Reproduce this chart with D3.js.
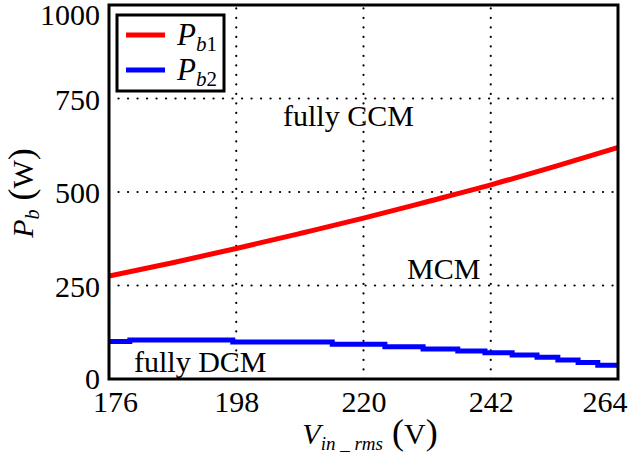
<!DOCTYPE html>
<html lang="en">
<head>
    <meta charset="UTF-8">
    <title>Pb vs Vin</title>
    <script src="https://cdn.jsdelivr.net/npm/d3@7"></script>
    <style>
        body { margin: 0; background: #fff; }
        text { font-family: "Liberation Serif", "Times New Roman", serif; fill: #000; }
        .grid line { stroke: #000; stroke-width: 2.2; stroke-dasharray: 0.1 9.4; stroke-linecap: round; }
    </style>
</head>
<body>
    <svg width="629" height="459"></svg>
    <script>
        // input voltage (V) and Pb1 (W)
        var vin = [176, 187, 198, 209, 220, 231, 242, 253, 264];
        var pb1 = [275, 311, 349, 389, 430, 474, 519, 568, 619];
        // Pb2 is a staircase
        var vinStep = [176, 179.6, 197.4, 214.6, 223.7, 230.3, 236.3, 241, 245.7, 250, 253.6, 257.1, 260.5, 264];
        var pb2 = [100, 104, 99, 93, 86, 80, 75, 70, 64, 58, 51, 44, 37, 37];

        var xTicks = [176, 198, 220, 242, 264];
        var yTicks = [0, 250, 500, 750, 1000];

        var svg = d3.select("svg");
        var pLeft = 109, pRight = 618, pTop = 5, pBottom = 379;

        var x = d3.scaleLinear().domain([176, 264]).range([pLeft, pRight]);
        var y = d3.scaleLinear().domain([0, 1000]).range([pBottom, pTop]);

        // dotted grid
        var grid = svg.append("g").attr("class", "grid");
        grid.selectAll(".gx").data(xTicks.slice(1, -1)).enter().append("line")
            .attr("x1", function(d) { return x(d); }).attr("x2", function(d) { return x(d); })
            .attr("y1", pBottom).attr("y2", pTop);
        grid.selectAll(".gy").data(yTicks.slice(1, -1)).enter().append("line")
            .attr("y1", function(d) { return y(d); }).attr("y2", function(d) { return y(d); })
            .attr("x1", pLeft).attr("x2", pRight);

        // annotations
        svg.append("text").attr("x", 283).attr("y", 126).attr("font-size", 30).text("fully CCM");
        svg.append("text").attr("x", 407).attr("y", 279).attr("font-size", 30).text("MCM");
        svg.append("text").attr("x", 134).attr("y", 372).attr("font-size", 30).text("fully DCM");

        svg.append("clipPath").attr("id", "clip").append("rect")
            .attr("x", pLeft).attr("y", pTop).attr("width", pRight - pLeft).attr("height", pBottom - pTop);

        var line1 = d3.line()
            .x(function(d, i) { return x(vin[i]); })
            .y(function(d) { return y(d); })
            .curve(d3.curveMonotoneX);
        var line2 = d3.line()
            .x(function(d, i) { return x(vinStep[i]); })
            .y(function(d) { return y(d); })
            .curve(d3.curveStepAfter);

        svg.append("path").datum(pb1).attr("clip-path", "url(#clip)")
            .attr("d", line1).attr("fill", "none").attr("stroke", "#ff0000").attr("stroke-width", 5);
        svg.append("path").datum(pb2).attr("clip-path", "url(#clip)")
            .attr("d", line2).attr("fill", "none").attr("stroke", "#0000ff").attr("stroke-width", 5);

        // axes
        var xAxis = svg.append("g").attr("transform", "translate(0," + pBottom + ")")
            .call(d3.axisBottom(x).tickValues(xTicks).tickSize(0).tickPadding(10).tickFormat(d3.format("d")));
        var yAxis = svg.append("g").attr("transform", "translate(" + pLeft + ",0)")
            .call(d3.axisLeft(y).tickValues(yTicks).tickSize(0).tickPadding(9).tickFormat(d3.format("d")));
        xAxis.select(".domain").remove();
        yAxis.select(".domain").remove();
        xAxis.selectAll("text").attr("font-size", 30).attr("font-family", "Liberation Serif").attr("dy", "0.75em")
            .attr("text-anchor", function(d) { return d == 264 ? "end" : "middle"; })
            .attr("x", function(d) { return d == 264 ? 9 : (d == 176 ? 6 : 0); });
        yAxis.selectAll("text").attr("font-size", 30).attr("font-family", "Liberation Serif")
            .attr("dy", function(d) { return d == 1000 ? "0.65em" : (d == 0 ? "0.3em" : "0.35em"); });

        // frame
        svg.append("rect").attr("x", pLeft).attr("y", pTop)
            .attr("width", pRight - pLeft).attr("height", pBottom - pTop)
            .attr("fill", "none").attr("stroke", "#000").attr("stroke-width", 3);

        // legend
        var lg = svg.append("g");
        lg.append("rect").attr("x", 117).attr("y", 15).attr("width", 107).attr("height", 76)
            .attr("fill", "#fff").attr("stroke", "#000").attr("stroke-width", 3);
        var items = [["1", "#ff0000"], ["2", "#0000ff"]];
        items.forEach(function(it, i) {
            var yy = 35 + i * 35;
            lg.append("line").attr("x1", 126).attr("x2", 165).attr("y1", yy).attr("y2", yy)
                .attr("stroke", it[1]).attr("stroke-width", 5);
            var t = lg.append("text").attr("x", 177).attr("y", yy + 10).attr("font-size", 31);
            t.append("tspan").attr("font-style", "italic").text("P");
            t.append("tspan").attr("font-size", 21).attr("font-style", "italic").attr("dy", 6).text("b");
            t.append("tspan").attr("font-size", 21).text(it[0]);
        });

        // axis titles
        var yl = svg.append("text").attr("transform", "translate(33,193) rotate(-90)")
            .attr("text-anchor", "middle").attr("font-size", 30);
        yl.append("tspan").attr("font-style", "italic").text("P");
        yl.append("tspan").attr("font-style", "italic").attr("font-size", 20).attr("dy", 6).text("b");
        yl.append("tspan").attr("dy", -6).attr("font-size", 36).text(" (");
        yl.append("tspan").text("W");
        yl.append("tspan").attr("font-size", 36).text(")");

        var xl = svg.append("text").attr("x", 370).attr("y", 444)
            .attr("text-anchor", "middle").attr("font-size", 30);
        xl.append("tspan").attr("font-style", "italic").text("V");
        xl.append("tspan").attr("font-style", "italic").attr("font-size", 19).attr("dy", 6).text("in _ rms");
        xl.append("tspan").attr("dy", -6).attr("font-size", 36).text(" (");
        xl.append("tspan").text("V");
        xl.append("tspan").attr("font-size", 36).text(")");
    </script>
</body>
</html>
